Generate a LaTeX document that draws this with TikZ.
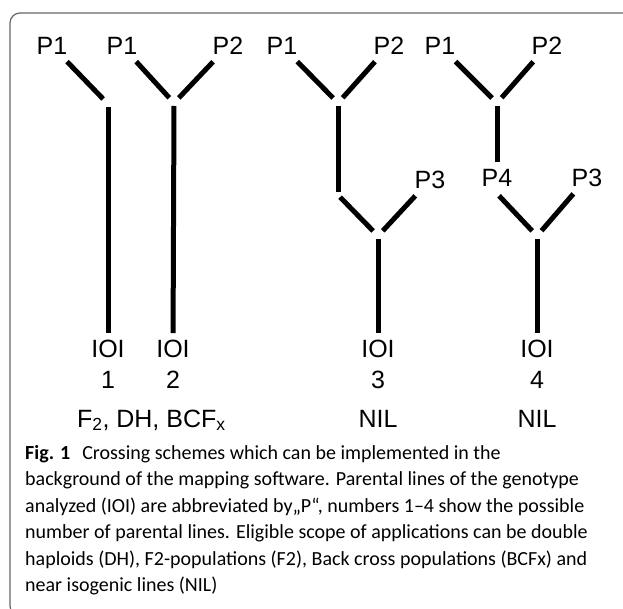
\documentclass[tikz,border=0pt]{standalone}
\usepackage{fontspec}
\setmainfont{Liberation Sans}
\newfontfamily\capfont{Carlito}
\tikzset{
    lbl/.style={inner sep=4pt, outer sep=3pt, font=\fontsize{25}{30}\selectfont},
    stem/.style={line width=5pt},
    frame/.style={draw=black!60, line width=1.2pt, rounded corners=10pt}
}

\begin{document}
\begin{tikzpicture}[x=1pt, y=-1pt]
\useasboundingbox (0,0) rectangle (623,609);

% Rahmen
\begin{scope}
\clip (0,0) rectangle (623,609);
\draw[frame] (10,13) rectangle (660,616);
\end{scope}

% Eltern
\node[lbl] (p1a) at (52,46)  {P1};
\node[lbl] (p1b) at (122,46) {P1};
\node[lbl] (p2b) at (228,46) {P2};
\node[lbl] (p1c) at (282,46) {P1};
\node[lbl] (p2c) at (389,46) {P2};
\node[lbl] (p1d) at (440,46) {P1};
\node[lbl] (p2d) at (547,46) {P2};
\node[lbl] (p3c) at (430,180) {P3};
\node[lbl] (p4d) at (497,178) {P4};
\node[lbl] (p3d) at (587,178) {P3};

% Nachkommen
\node[lbl] (ioi1) at (108,349) {IOI};
\node[lbl] (ioi2) at (173,349) {IOI};
\node[lbl] (ioi3) at (378,349) {IOI};
\node[lbl] (ioi4) at (537,349) {IOI};
\node[lbl] (num1) at (108,380) {1};
\node[lbl] (num2) at (173,380) {2};
\node[lbl] (num3) at (378,380) {3};
\node[lbl] (num4) at (537,380) {4};
\node[lbl, anchor=base west] (pop1) at (70,427) {F\textsubscript{2}, DH, BCF\textsubscript{x}};
\node[lbl, anchor=base] (pop3) at (378,427) {NIL};
\node[lbl, anchor=base] (pop4) at (537,427) {NIL};

% Kreuzungspunkte
\coordinate (j1)  at (108,104);
\coordinate (j2)  at (174,103);
\coordinate (j3a) at (338,103);
\coordinate (k3)  at (338,195);
\coordinate (j3b) at (378,236);
\coordinate (j4a) at (497,103);
\coordinate (j4b) at (537,236);

% Schema 1 und 2
\draw[stem, shorten >=7pt] (p1a) -- (j1);
\draw[stem, shorten <=3pt] (j1) -- (ioi1);
\draw[stem, shorten >=7pt] (p1b) -- (j2);
\draw[stem, shorten >=7pt] (p2b) -- (j2);
\draw[stem, shorten <=3pt] (j2) -- (ioi2);

% Schema 3
\draw[stem, shorten >=7pt] (p1c) -- (j3a);
\draw[stem, shorten >=7pt] (p2c) -- (j3a);
\draw[stem, shorten <=3pt, shorten >=3pt] (j3a) -- (k3);
\draw[stem, shorten <=3pt, shorten >=7pt] (k3) -- (j3b);
\draw[stem, shorten >=7pt] (p3c) -- (j3b);
\draw[stem, shorten <=3pt] (j3b) -- (ioi3);

% Schema 4
\draw[stem, shorten >=7pt] (p1d) -- (j4a);
\draw[stem, shorten >=7pt] (p2d) -- (j4a);
\draw[stem, shorten <=3pt] (j4a) -- (p4d);
\draw[stem, shorten <=3pt, shorten >=7pt] (p4d.south) -- (j4b);
\draw[stem, shorten >=7pt] (p3d) -- (j4b);
\draw[stem, shorten <=3pt] (j4b) -- (ioi4);

% Bildunterschrift
\node[anchor=north west, inner sep=0pt, align=left,
      font=\capfont\fontsize{20}{26.5}\selectfont] (cap) at (25,445)
  {\textbf{Fig. 1}\hspace{0.6em}Crossing schemes which can be implemented in the\\
   background of the mapping software. Parental lines of the genotype\\
   analyzed (IOI) are abbreviated by„P“, numbers 1–4 show the possible\\
   number of parental lines. Eligible scope of applications can be double\\
   haploids (DH), F2-populations (F2), Back cross populations (BCFx) and\\
   near isogenic lines (NIL)};
\end{tikzpicture}
\end{document}
